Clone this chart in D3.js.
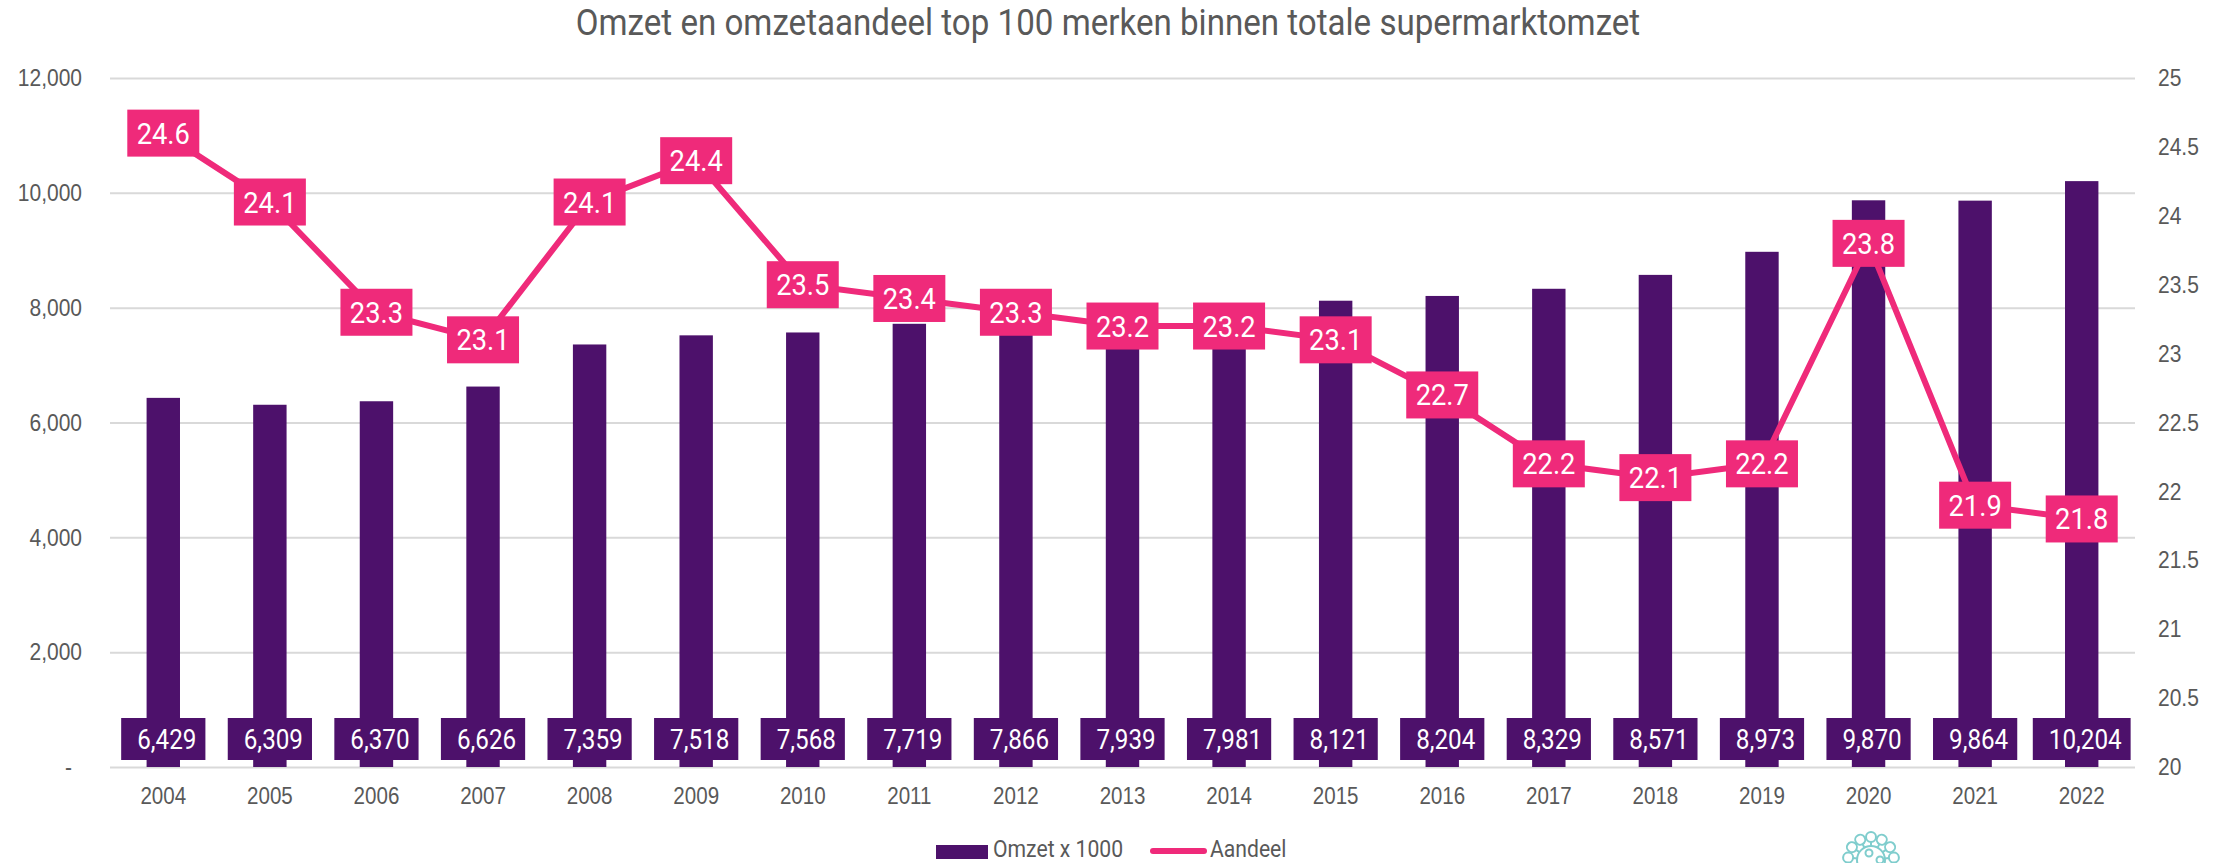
<!DOCTYPE html>
<html lang="nl">
<head>
  <meta charset="utf-8">
  <title>Omzet en omzetaandeel top 100 merken</title>
  <script src="https://d3js.org/d3.v7.min.js"></script>
  <style>
    html, body { margin: 0; background: #fff; overflow: hidden; }
    svg { display: block; font-family: Roboto, sans-serif; }
  </style>
</head>
<body>
<div id="app"></div>
<script>
const years = ["2004", "2005", "2006", "2007", "2008", "2009", "2010", "2011", "2012", "2013",
  "2014", "2015", "2016", "2017", "2018", "2019", "2020", "2021", "2022"];
const omzet = [6429, 6309, 6370, 6626, 7359, 7518, 7568, 7719, 7866, 7939,
  7981, 8121, 8204, 8329, 8571, 8973, 9870, 9864, 10204];
const aandeel = [24.6, 24.1, 23.3, 23.1, 24.1, 24.4, 23.5, 23.4, 23.3, 23.2,
  23.2, 23.1, 22.7, 22.2, 22.1, 22.2, 23.8, 21.9, 21.8];
const leftTicks = [0, 2000, 4000, 6000, 8000, 10000, 12000];
const rightTicks = [20, 20.5, 21, 21.5, 22, 22.5, 23, 23.5, 24, 24.5, 25];
const logoAngles = [-84, -56, -28, 0, 28, 56, 84];

const width = 2224, height = 863;
const margin = {top: 78, right: 89, bottom: 96, left: 110};
const purple = "#4d116b", pink = "#ef2a7a", grey = "#595959";

const svg = d3.select("#app").append("svg")
    .attr("width", width)
    .attr("height", height);

const x = d3.scaleBand()
    .domain(years)
    .range([margin.left, width - margin.right]);
const y = d3.scaleLinear()
    .domain([0, 12000])
    .range([height - margin.bottom, margin.top]);
const y2 = d3.scaleLinear()
    .domain([20, 25])
    .range([height - margin.bottom, margin.top]);
const cx = d => x(d) + x.bandwidth() / 2;

// the original font is narrower than Roboto, so squeeze the text a bit
function squeeze(sel, k) {
  sel.each(function() {
    this.setAttribute("textLength", this.getComputedTextLength() * k);
    this.setAttribute("lengthAdjust", "spacingAndGlyphs");
  });
}

svg.append("text")
    .attr("x", 1108)
    .attr("y", 35)
    .attr("text-anchor", "middle")
    .attr("font-size", 36)
    .attr("fill", grey)
    .text("Omzet en omzetaandeel top 100 merken binnen totale supermarktomzet")
    .call(squeeze, 0.92);

// gridlines and left axis
svg.append("g")
    .attr("transform", `translate(${margin.left},0)`)
    .call(d3.axisLeft(y)
        .tickValues(leftTicks)
        .tickSize(-(width - margin.left - margin.right))
        .tickPadding(28)
        .tickFormat(d => d === 0 ? "-" : d3.format(",")(d)))
    .call(g => g.select(".domain").remove())
    .call(g => g.selectAll("line").attr("stroke", "#d9d9d9").attr("stroke-width", 2))
    .call(g => g.selectAll("text")
        .attr("font-size", 24)
        .attr("fill", grey)
        .attr("dx", d => d === 0 ? -10 : 0)
        .call(squeeze, 0.875));

// right axis
svg.append("g")
    .attr("transform", `translate(${width - margin.right},0)`)
    .call(d3.axisRight(y2)
        .tickValues(rightTicks)
        .tickSize(0)
        .tickPadding(23)
        .tickFormat(d => d))
    .call(g => g.select(".domain").remove())
    .call(g => g.selectAll("text")
        .attr("font-size", 24)
        .attr("fill", grey)
        .call(squeeze, 0.875));

// bottom axis
svg.append("g")
    .attr("transform", `translate(0,${height - margin.bottom})`)
    .call(d3.axisBottom(x).tickSize(0).tickPadding(20))
    .call(g => g.select(".domain").remove())
    .call(g => g.selectAll("text")
        .attr("font-size", 23.5)
        .attr("fill", grey)
        .call(squeeze, 0.875));

svg.append("g")
    .selectAll("rect")
    .data(years)
    .join("rect")
    .attr("x", d => cx(d) - 16.7)
    .attr("width", 33.4)
    .attr("y", (d, i) => y(omzet[i]))
    .attr("height", (d, i) => y(0) - y(omzet[i]))
    .attr("fill", purple);

svg.append("path")
    .datum(aandeel)
    .attr("d", d3.line().x((d, i) => cx(years[i])).y(d => y2(d)))
    .attr("fill", "none")
    .attr("stroke", pink)
    .attr("stroke-width", 6);

// value labels at the foot of the bars
const barLabels = svg.append("g")
    .selectAll("g")
    .data(years)
    .join("g")
    .attr("transform", d => `translate(${cx(d)},739)`);
const barRects = barLabels.append("rect").attr("fill", purple);
barLabels.append("text")
    .attr("text-anchor", "middle")
    .attr("dominant-baseline", "central")
    .attr("dx", 3.5)
    .attr("font-size", 28)
    .attr("fill", "#fff")
    .text((d, i) => d3.format(",")(omzet[i]))
    .call(squeeze, 0.865)
    .each(function(d, i) {
      const w = +this.getAttribute("textLength") + 25;
      d3.select(barRects.nodes()[i])
          .attr("x", -w / 2).attr("width", w)
          .attr("y", -21).attr("height", 42);
    });

// value labels on the line
const lineLabels = svg.append("g")
    .selectAll("g")
    .data(years)
    .join("g")
    .attr("transform", (d, i) => `translate(${cx(d)},${y2(aandeel[i])})`);
lineLabels.append("rect")
    .attr("x", -36)
    .attr("y", -23.5)
    .attr("width", 72)
    .attr("height", 47)
    .attr("fill", pink);
lineLabels.append("text")
    .attr("text-anchor", "middle")
    .attr("dominant-baseline", "central")
    .attr("font-size", 30)
    .attr("fill", "#fff")
    .text((d, i) => d3.format(".1f")(aandeel[i]))
    .call(squeeze, 0.91);

// legend
const legend = svg.append("g").attr("font-size", 23.5).attr("fill", grey);
legend.append("rect")
    .attr("x", 936).attr("y", 845)
    .attr("width", 52).attr("height", 14)
    .attr("fill", purple);
legend.append("text")
    .attr("x", 993).attr("y", 857)
    .text("Omzet x 1000")
    .call(squeeze, 0.9);
legend.append("line")
    .attr("x1", 1153).attr("x2", 1204)
    .attr("y1", 851).attr("y2", 851)
    .attr("stroke", pink)
    .attr("stroke-width", 6)
    .attr("stroke-linecap", "round");
legend.append("text")
    .attr("x", 1210).attr("y", 857)
    .text("Aandeel")
    .call(squeeze, 0.9);

// logo, cut off by the bottom edge
const logo = svg.append("g")
    .attr("transform", "translate(1871,860)")
    .attr("fill", "none")
    .attr("stroke", "#7fcdcd")
    .attr("stroke-width", 2);
logo.append("circle").attr("r", 14);
logo.selectAll("line")
    .data(logoAngles)
    .join("line")
    .attr("y1", -14)
    .attr("y2", -18)
    .attr("transform", d => `rotate(${d})`);
logo.selectAll("circle.petal")
    .data(logoAngles)
    .join("circle")
    .attr("class", "petal")
    .attr("r", 5)
    .attr("transform", d => `rotate(${d}) translate(0,-23)`);
logo.append("circle").attr("r", 3.5).attr("cx", -2).attr("cy", -7);
logo.append("circle").attr("r", 3.5).attr("cx", 9).attr("cy", 0);
</script>
</body>
</html>
